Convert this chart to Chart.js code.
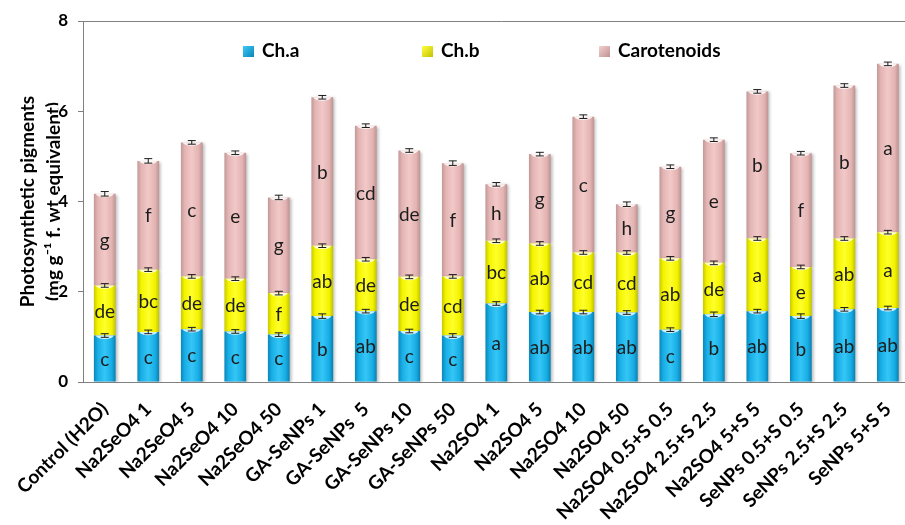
<!DOCTYPE html>
<html>
<head>
<meta charset="utf-8">
<script src="https://cdn.jsdelivr.net/npm/chart.js@4/dist/chart.umd.min.js"></script>
<style>
  html, body { margin: 0; padding: 0; background: #fff; width: 905px; height: 525px; overflow: hidden; }
  #wrap { width: 920px; height: 525px; }
</style>
</head>
<body>
<div id="wrap"><canvas id="chart" width="920" height="525"></canvas></div>
<script>
// Treatments
const categories = [
  'Control (H2O)', 'Na2SeO4 1', 'Na2SeO4 5', 'Na2SeO4 10', 'Na2SeO4 50',
  'GA-SeNPs 1', 'GA-SeNPs  5', 'GA-SeNPs 10', 'GA-SeNPs 50',
  'Na2SO4 1', 'Na2SO4 5', 'Na2SO4 10', 'Na2SO4 50',
  'Na2SO4 0.5+S 0.5', 'Na2SO4 2.5+S 2.5', 'Na2SO4 5+S 5',
  'SeNPs 0.5+S 0.5', 'SeNPs 2.5+S 2.5', 'SeNPs 5+S 5'
];

// Pigment contents (mg g-1 f. wt)
const chA = [1.03, 1.11, 1.17, 1.12, 1.05, 1.46, 1.57, 1.13, 1.03, 1.74, 1.55, 1.55, 1.54, 1.16, 1.50, 1.57, 1.46, 1.61, 1.64];
const chB = [1.11, 1.38, 1.17, 1.17, 0.92, 1.56, 1.15, 1.20, 1.31, 1.39, 1.52, 1.32, 1.33, 1.58, 1.14, 1.61, 1.09, 1.57, 1.68];
const carotenoids = [2.03, 2.41, 2.97, 2.79, 2.12, 3.29, 2.96, 2.80, 2.51, 1.25, 1.98, 3.01, 1.07, 2.03, 2.73, 3.26, 2.52, 3.39, 3.73];

// Standard errors
const errA = [0.04, 0.04, 0.04, 0.04, 0.04, 0.05, 0.04, 0.04, 0.04, 0.04, 0.04, 0.04, 0.04, 0.04, 0.05, 0.04, 0.05, 0.04, 0.04];
const errB = [0.04, 0.04, 0.04, 0.04, 0.04, 0.04, 0.04, 0.04, 0.04, 0.04, 0.04, 0.04, 0.04, 0.04, 0.04, 0.04, 0.04, 0.04, 0.04];
const errC = [0.05, 0.05, 0.04, 0.04, 0.05, 0.04, 0.04, 0.04, 0.05, 0.04, 0.04, 0.04, 0.05, 0.04, 0.04, 0.04, 0.04, 0.04, 0.04];

// Significance letters (Duncan)
const lettersA = ['c', 'c', 'c', 'c', 'c', 'b', 'ab', 'c', 'c', 'a', 'ab', 'ab', 'ab', 'c', 'b', 'ab', 'b', 'ab', 'ab'];
const lettersB = ['de', 'bc', 'de', 'de', 'f', 'ab', 'de', 'de', 'cd', 'bc', 'ab', 'cd', 'cd', 'ab', 'de', 'a', 'e', 'ab', 'a'];
const lettersC = ['g', 'f', 'c', 'e', 'g', 'b', 'cd', 'de', 'f', 'h', 'g', 'c', 'h', 'g', 'e', 'b', 'f', 'b', 'a'];

// Y axis ticks
const yTicks = [0, 2, 4, 6, 8];

const FONT = "Lato, 'DejaVu Sans', sans-serif";
const BAR_SHARE = 0.5;

// horizontal "cylinder" shading for each series
const shades = {
  a: [[0, '#0a86b8'], [0.18, '#18aee6'], [0.5, '#35c6f6'], [0.82, '#16ace4'], [1, '#0a7fae']],
  b: [[0, '#c9c900'], [0.18, '#f4f400'], [0.5, '#ffff2a'], [0.82, '#f2f200'], [1, '#c2c200']],
  c: [[0, '#c29897'], [0.18, '#e3b5b4'], [0.5, '#f2c9c8'], [0.82, '#e2b3b2'], [1, '#bd9392']]
};
const flatColors = { a: '#1fb5ea', b: '#ffff00', c: '#e6b9b8' };

function cylinderFill(key) {
  return function (ctx) {
    const chart = ctx.chart;
    const xs = chart.scales.x;
    if (!chart.chartArea || !xs || ctx.dataIndex === undefined) return flatColors[key];
    const cx = xs.getPixelForValue(ctx.dataIndex);
    const w = xs.width / categories.length * BAR_SHARE;
    const g = chart.ctx.createLinearGradient(cx - w / 2, 0, cx + w / 2, 0);
    shades[key].forEach(([p, c]) => g.addColorStop(p, c));
    return g;
  };
}

// soft drop shadow behind bars
const barShadow = {
  id: 'barShadow',
  beforeDatasetDraw(chart) {
    const c = chart.ctx;
    c.save();
    c.shadowColor = 'rgba(0,0,0,0.28)';
    c.shadowBlur = 3;
    c.shadowOffsetX = 2;
    c.shadowOffsetY = 1;
  },
  afterDatasetDraw(chart) {
    chart.ctx.restore();
  }
};

// light rim at the top of each segment, error bars and letters
const segmentDecor = {
  id: 'segmentDecor',
  afterDatasetsDraw(chart) {
    const c = chart.ctx;
    const y = chart.scales.y;
    c.save();
    chart.data.datasets.forEach((ds, di) => {
      const meta = chart.getDatasetMeta(di);
      meta.data.forEach((el) => {
        const w = el.width;
        c.save();
        c.beginPath();
        c.rect(el.x - w / 2, el.y, w, 6);
        c.clip();
        c.beginPath();
        c.ellipse(el.x, el.y, w / 2 - 2, 3.4, 0, 0, Math.PI * 2);
        c.fillStyle = 'rgba(255,255,255,0.8)';
        c.fill();
        c.restore();
      });
    });
    chart.data.datasets.forEach((ds, di) => {
      const meta = chart.getDatasetMeta(di);
      meta.data.forEach((el, i) => {
        const top = y.getValueForPixel(el.y);
        const e = ds.errors[i];
        const y1 = y.getPixelForValue(top + e);
        const y2 = y.getPixelForValue(top - e);
        c.strokeStyle = '#1a1a1a';
        c.lineWidth = 1;
        c.beginPath();
        c.moveTo(el.x, y1); c.lineTo(el.x, y2);
        c.moveTo(el.x - 4, y1); c.lineTo(el.x + 4, y1);
        c.moveTo(el.x - 4, y2); c.lineTo(el.x + 4, y2);
        c.stroke();
        const p = el.getCenterPoint();
        c.fillStyle = '#1c1c1c';
        c.font = '19px ' + FONT;
        c.textAlign = 'center';
        c.textBaseline = 'middle';
        c.fillText(ds.letters[i], p.x, p.y + 1);
      });
    });
    c.restore();
  }
};

// top frame line and in-plot legend
const frameAndLegend = {
  id: 'frameAndLegend',
  afterDraw(chart) {
    const c = chart.ctx;
    const a = chart.chartArea;
    c.save();
    c.strokeStyle = '#808080';
    c.lineWidth = 1;
    c.beginPath();
    c.moveTo(a.left, a.top + 0.5);
    c.lineTo(chart.width, a.top + 0.5);
    c.stroke();

    const starts = [160, 339, 516];
    const ly = a.top + 30;
    c.font = 'bold 19px ' + FONT;
    c.textAlign = 'left';
    c.textBaseline = 'middle';
    chart.data.datasets.forEach((ds, i) => {
      const bx = a.left + starts[i];
      const g = c.createLinearGradient(bx, ly - 5, bx + 11, ly + 6);
      g.addColorStop(0, ds.legendColor[0]);
      g.addColorStop(1, ds.legendColor[1]);
      c.fillStyle = g;
      c.fillRect(bx, ly - 5, 11, 11);
      c.fillStyle = '#000';
      c.fillText(ds.label, bx + 19, ly);
    });
    c.restore();
  }
};

new Chart(document.getElementById('chart'), {
  type: 'bar',
  data: {
    labels: categories,
    datasets: [
      { label: 'Ch.a', data: chA, errors: errA, letters: lettersA, legendColor: ['#3ccaf8', '#0a86b8'],
        backgroundColor: cylinderFill('a') },
      { label: 'Ch.b', data: chB, errors: errB, letters: lettersB, legendColor: ['#ffff40', '#c2c200'],
        backgroundColor: cylinderFill('b') },
      { label: 'Carotenoids', data: carotenoids, errors: errC, letters: lettersC, legendColor: ['#f4d0cf', '#bd9392'],
        backgroundColor: cylinderFill('c') }
    ]
  },
  options: {
    responsive: false,
    animation: false,
    layout: { padding: { top: 21, right: 1, left: 0, bottom: 0 } },
    datasets: { bar: { barPercentage: BAR_SHARE, categoryPercentage: 1, borderWidth: 0 } },
    plugins: { legend: { display: false }, tooltip: { enabled: false } },
    scales: {
      x: {
        stacked: true,
        grid: { display: false, drawTicks: false },
        border: { display: true, color: '#808080', width: 1 },
        ticks: {
          autoSkip: false, maxRotation: 45, minRotation: 45, padding: 16,
          color: '#000', font: { family: FONT, size: 19, weight: 'bold' }
        },
        afterFit(s) { s.height = 143; }
      },
      y: {
        stacked: true, min: 0, max: 8,
        afterBuildTicks(s) { s.ticks = yTicks.map(v => ({ value: v })); },
        grid: { display: true, drawOnChartArea: false, drawTicks: true, tickLength: 5, color: '#808080' },
        border: { display: true, color: '#808080', width: 1 },
        ticks: {
          padding: 10, autoSkip: false, color: '#000', font: { family: FONT, size: 17, weight: 'bold' },
          showLabelBackdrop: true, backdropColor: '#ffffff', backdropPadding: 0
        },
        title: {
          display: true,
          text: ['Photosynthetic pigments', '(mg g\u207B\u00B9 f. wt equivalent)'],
          color: '#000', padding: { top: 15, bottom: 0 },
          font: { family: FONT, size: 19, weight: 'bold', lineHeight: 1.38 }
        },
        afterFit(s) { s.width = 83; }
      }
    }
  },
  plugins: [barShadow, segmentDecor, frameAndLegend]
});
</script>
</body>
</html>
